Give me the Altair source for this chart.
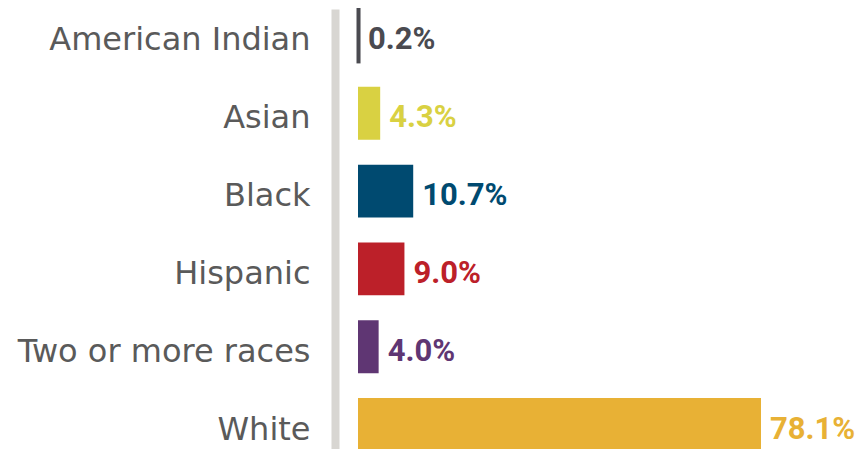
import altair as alt
import pandas as pd

categories = ["American Indian", "Asian", "Black", "Hispanic", "Two or more races", "White"]
values = [0.2, 4.3, 10.7, 9.0, 4.0, 78.1]
colors = ["#4a4a50", "#d9d142", "#004a70", "#bc2029", "#5f3673", "#e8b135"]

df = pd.DataFrame({
    "category": categories,
    "value": values,
    "label": [f"{v:.1f}%" for v in values],
})

color_scale = alt.Scale(domain=categories, range=colors)

y_enc = alt.Y(
    "category:N",
    sort=categories,
    scale=alt.Scale(paddingInner=0.32, paddingOuter=0),
    axis=alt.Axis(
        title=None,
        ticks=False,
        tickSize=0,
        domainColor="#d8d6d2",
        domainWidth=8,
        offset=23,
        labelPadding=25,
        labelFont="DejaVu Sans",
        labelFontSize=32,
        labelColor="#5a5a5a",
        labelOffset=5,
        labelLimit=400,
    ),
)
x_enc = alt.X("value:Q", scale=alt.Scale(domain=[0, 78.1], nice=False), axis=None)

base = alt.Chart(df)

bars = base.mark_bar().encode(
    x=x_enc,
    y=y_enc,
    color=alt.Color("category:N", scale=color_scale, legend=None),
    stroke=alt.Color("category:N", scale=color_scale, legend=None),
    strokeWidth=alt.condition(alt.datum.category == "American Indian", alt.value(3), alt.value(0)),
)

text = base.mark_text(
    align="left", baseline="middle", dx=9, dy=5,
    font="Roboto", fontSize=31, fontWeight="bold",
).encode(
    x=x_enc,
    y=y_enc,
    text="label:N",
    color=alt.Color("category:N", scale=color_scale, legend=None),
)

chart = (bars + text).properties(
    width=403,
    height=442,
    padding={"left": 350, "top": 1, "right": 95, "bottom": 0},
    autosize="none",
).configure_view(stroke=None)

chart.save("out.html", embed_options={"renderer": "svg", "actions": False})
